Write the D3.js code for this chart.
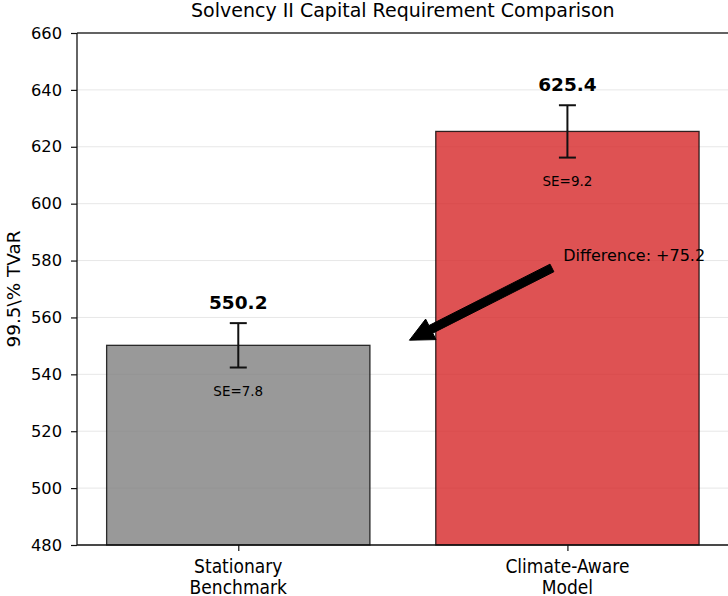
<!DOCTYPE html>
<html>
<head>
<meta charset="utf-8">
<script src="https://cdn.jsdelivr.net/npm/d3@7"></script>
<style>
  html, body { margin: 0; padding: 0; background: #fff; }
  svg { display: block; }
  text { font-family: "DejaVu Sans", sans-serif; fill: #000; }
</style>
</head>
<body>
<svg id="chart" width="728" height="596"></svg>
<script>
// ---- data ----
const categories = ["Stationary\nBenchmark", "Climate-Aware\nModel"];
const values = [550.2, 625.4];
const stdErrors = [7.8, 9.2];
const barColors = ["#808080", "#d62728"];
const yTicks = [480, 500, 520, 540, 560, 580, 600, 620, 640, 660];
const titleText = "Solvency II Capital Requirement Comparison";
const yLabel = "99.5\\% TVaR";
const annotationText = "Difference: +75.2";
const arrowFrom = [0.953, 577.4];
const arrowTo = [0.52, 552.0];
const annotationPos = [0.987, 580];

// ---- layout ----
const plot = { left: 77, top: 33, right: 728.7, bottom: 545 };
const svg = d3.select("#chart");

const x = d3.scaleLinear().domain([-0.49, 1.49]).range([plot.left, plot.right]);
const y = d3.scaleLinear().domain([480, 660]).range([plot.bottom, plot.top]);
const barW = 0.8;

// grid
svg.append("g").selectAll("line").data(yTicks).join("line")
  .attr("x1", plot.left).attr("x2", plot.right)
  .attr("y1", d => y(d)).attr("y2", d => y(d))
  .attr("stroke", "#b0b0b0").attr("stroke-opacity", 0.3).attr("stroke-width", 1);

// bars
svg.append("g").selectAll("rect").data(values).join("rect")
  .attr("x", (d, i) => x(i - barW / 2))
  .attr("width", (d, i) => x(i + barW / 2) - x(i - barW / 2))
  .attr("y", d => y(d))
  .attr("height", d => y(480) - y(d))
  .attr("fill", (d, i) => barColors[i]).attr("fill-opacity", 0.8)
  .attr("stroke", "#000").attr("stroke-opacity", 0.8).attr("stroke-width", 1.3);

// error bars
const eb = svg.append("g").attr("stroke", "#111").attr("stroke-width", 2);
values.forEach((v, i) => {
  const cx = x(i), se = stdErrors[i];
  eb.append("line").attr("x1", cx).attr("x2", cx).attr("y1", y(v - se)).attr("y2", y(v + se));
  eb.append("line").attr("x1", cx - 8.5).attr("x2", cx + 8.5).attr("y1", y(v - se)).attr("y2", y(v - se));
  eb.append("line").attr("x1", cx - 8.5).attr("x2", cx + 8.5).attr("y1", y(v + se)).attr("y2", y(v + se));
});

// value labels
svg.append("g").selectAll("text").data(values).join("text")
  .attr("x", (d, i) => x(i)).attr("y", (d, i) => y(d + stdErrors[i] + 5))
  .attr("text-anchor", "middle").attr("font-weight", "bold").attr("font-size", 18.5)
  .text(d => d.toFixed(1));

// SE labels
svg.append("g").selectAll("text").data(values).join("text")
  .attr("x", (d, i) => x(i)).attr("y", (d, i) => y(d - stdErrors[i] - 10))
  .attr("text-anchor", "middle").attr("font-size", 13.5)
  .text((d, i) => "SE=" + stdErrors[i].toFixed(1));

// axes spines
svg.append("line").attr("x1", plot.left).attr("x2", plot.right).attr("y1", plot.top).attr("y2", plot.top)
  .attr("stroke", "#333").attr("stroke-width", 1.3);
svg.append("line").attr("x1", plot.left).attr("x2", plot.right).attr("y1", plot.bottom).attr("y2", plot.bottom)
  .attr("stroke", "#111").attr("stroke-width", 1.3);
svg.append("line").attr("x1", plot.left).attr("x2", plot.left).attr("y1", plot.top).attr("y2", plot.bottom)
  .attr("stroke", "#111").attr("stroke-width", 1.3);
svg.append("line").attr("x1", plot.right).attr("x2", plot.right).attr("y1", plot.top).attr("y2", plot.bottom)
  .attr("stroke", "#111").attr("stroke-width", 1.3);

// y axis
const yAxis = d3.axisLeft(y).tickValues(yTicks).tickSize(6).tickPadding(9).tickFormat(d3.format("d"));
const yg = svg.append("g").attr("transform", `translate(${plot.left},0)`).call(yAxis);
yg.select(".domain").remove();
yg.selectAll(".tick line").attr("stroke", "#111").attr("stroke-width", 1.2);
yg.selectAll(".tick text").attr("font-size", 16.3).attr("font-family", "DejaVu Sans").attr("fill", "#111");

// x axis
const xAxis = d3.axisBottom(x).tickValues(categories.map((c, i) => i)).tickSize(6).tickFormat("");
const xg = svg.append("g").attr("transform", `translate(0,${plot.bottom})`).call(xAxis);
xg.select(".domain").remove();
xg.selectAll(".tick line").attr("stroke", "#111").attr("stroke-width", 1.2);
categories.forEach((c, i) => {
  const t = svg.append("text").attr("x", x(i)).attr("y", 573)
    .attr("text-anchor", "middle").attr("font-size", 19)
    .style("font-family", "'DejaVu Sans Condensed', 'DejaVu Sans'").style("font-stretch", "condensed")
    .attr("fill", "#111");
  c.split("\n").forEach((line, k) => {
    t.append("tspan").attr("x", x(i)).attr("dy", k === 0 ? 0 : 20.5).text(line);
  });
});

// title
svg.append("text").attr("x", (plot.left + plot.right) / 2).attr("y", 16.5)
  .attr("text-anchor", "middle").attr("font-size", 19).attr("fill", "#111").text(titleText);

// y label
svg.append("text").attr("transform", `translate(19.5,${(plot.top + plot.bottom) / 2}) rotate(-90)`)
  .attr("text-anchor", "middle").attr("font-size", 18.4).attr("fill", "#111").text(yLabel);

// annotation arrow
const p0 = [x(arrowFrom[0]), y(arrowFrom[1])];
const p1 = [x(arrowTo[0]), y(arrowTo[1])];
const dx = p1[0] - p0[0], dy = p1[1] - p0[1];
const len = Math.hypot(dx, dy);
const ux = dx / len, uy = dy / len, nx = -uy, ny = ux;
const shaftW = 8.5, headW = 23, headL = 24;
const hb = [p1[0] - ux * headL, p1[1] - uy * headL];
const pts = [
  [p0[0] + nx * shaftW / 2, p0[1] + ny * shaftW / 2],
  [hb[0] + nx * shaftW / 2, hb[1] + ny * shaftW / 2],
  [hb[0] + nx * headW / 2, hb[1] + ny * headW / 2],
  p1,
  [hb[0] - nx * headW / 2, hb[1] - ny * headW / 2],
  [hb[0] - nx * shaftW / 2, hb[1] - ny * shaftW / 2],
  [p0[0] - nx * shaftW / 2, p0[1] - ny * shaftW / 2]
];
svg.append("polygon").attr("points", pts.map(p => p.join(",")).join(" "))
  .attr("fill", "#000").attr("stroke", "#000").attr("stroke-width", 1);

svg.append("text").attr("x", x(annotationPos[0])).attr("y", y(annotationPos[1]))
  .attr("font-size", 16).attr("fill", "#111").text(annotationText);
</script>
</body>
</html>
